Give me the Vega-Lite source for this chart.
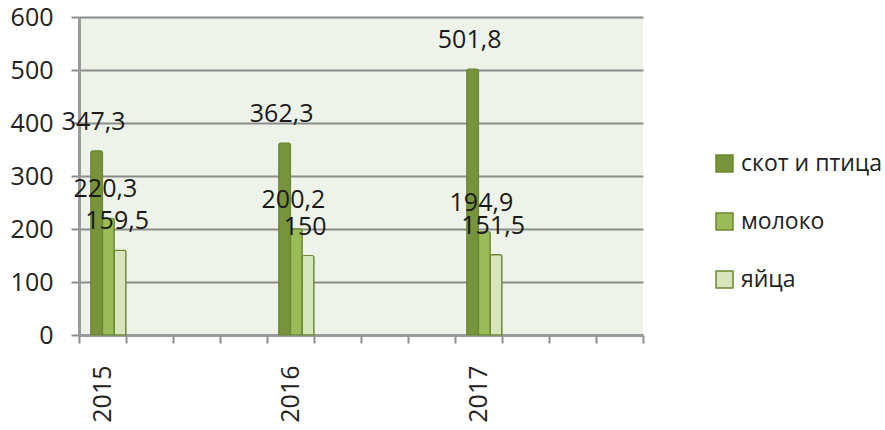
{
  "$schema": "https://vega.github.io/schema/vega-lite/v6.json",
  "autosize": "none",
  "width": 564,
  "height": 318,
  "padding": {"left": 79, "top": 17, "right": 242, "bottom": 95},
  "background": "#ffffff",
  "config": {
    "locale": {"number": {"decimal": ",", "thousands": " ", "grouping": [3], "currency": ["", ""]}},
    "view": {"fill": "#EEF3E9", "stroke": null},
    "font": "Open Sans"
  },
  "data": {
    "values": [
      {"year": "2015", "series": "скот и птица", "value": 347.3},
      {"year": "2015", "series": "молоко", "value": 220.3},
      {"year": "2015", "series": "яйца", "value": 159.5},
      {"year": "2016", "series": "скот и птица", "value": 362.3},
      {"year": "2016", "series": "молоко", "value": 200.2},
      {"year": "2016", "series": "яйца", "value": 150},
      {"year": "2017", "series": "скот и птица", "value": 501.8},
      {"year": "2017", "series": "молоко", "value": 194.9},
      {"year": "2017", "series": "яйца", "value": 151.5}
    ]
  },
  "encoding": {
    "x": {
      "field": "year",
      "type": "nominal",
      "scale": {
        "domain": ["2015", "s1", "s2", "s3", "2016", "s4", "s5", "s6", "2017", "s7", "s8", "s9"],
        "paddingInner": 0,
        "paddingOuter": 0
      },
      "axis": {
        "title": null,
        "labelExpr": "indexof(datum.label, 's') == 0 ? '' : datum.label",
        "labelAngle": 270,
        "labelAlign": "right",
        "labelBaseline": "middle",
        "labelFontSize": 25,
        "labelColor": "#222222",
        "labelPadding": 22,
        "tickBand": "extent",
        "tickSize": 8,
        "tickColor": "#8c8c8c",
        "tickWidth": 2,
        "domainColor": "#9a9a9a",
        "domainWidth": 3,
        "grid": false
      }
    },
    "xOffset": {
      "field": "series",
      "type": "nominal",
      "scale": {"domain": ["pad", "скот и птица", "молоко", "яйца"], "paddingInner": 0, "paddingOuter": 0}
    },
    "y": {
      "field": "value",
      "type": "quantitative",
      "scale": {"domain": [0, 600], "nice": false},
      "axis": {
        "title": null,
        "values": [0, 100, 200, 300, 400, 500, 600],
        "labelFontSize": 25,
        "labelColor": "#222222",
        "labelPadding": 18,
        "tickSize": 8,
        "tickColor": "#8c8c8c",
        "tickWidth": 2,
        "domainColor": "#9a9a9a",
        "domainWidth": 3,
        "grid": true,
        "gridColor": "#8c8c8c",
        "gridWidth": 2
      }
    }
  },
  "layer": [
    {
      "mark": {"type": "bar", "stroke": "#6a8832", "strokeWidth": 1.2, "cornerRadiusTopLeft": 2, "cornerRadiusTopRight": 2},
      "encoding": {
        "color": {
          "field": "series",
          "type": "nominal",
          "scale": {"domain": ["скот и птица", "молоко", "яйца"], "range": ["#77933C", "#9BBB59", "#D7E4BD"]},
          "legend": {
            "title": null,
            "orient": "none",
            "legendX": 634,
            "legendY": 135,
            "symbolType": "square",
            "symbolSize": 289,
            "symbolStrokeColor": "#6a8832",
            "symbolStrokeWidth": 1.5,
            "labelFontSize": 23,
            "labelColor": "#222222",
            "labelOffset": 5,
            "rowPadding": 34
          }
        }
      }
    },
    {
      "mark": {"type": "text", "fontSize": 25, "color": "#1a1a1a", "baseline": "alphabetic", "dy": -21, "dx": -3},
      "encoding": {
        "text": {"field": "value", "type": "quantitative", "format": "~g"}
      }
    }
  ]
}
